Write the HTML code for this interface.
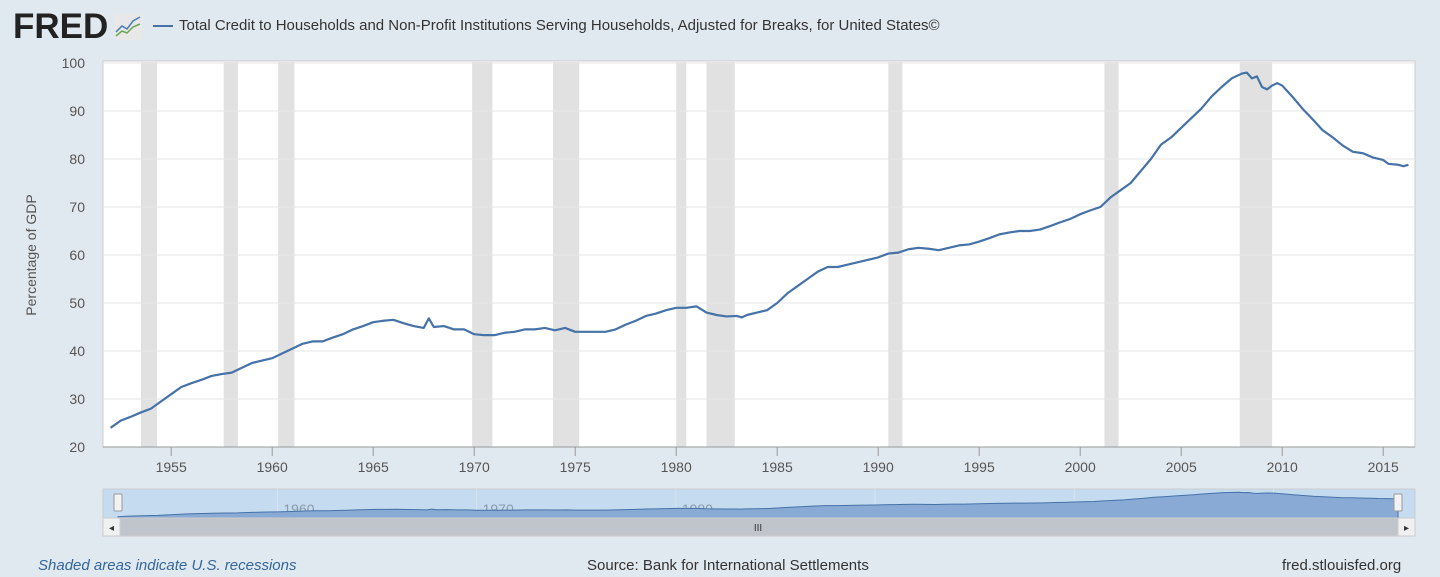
<!DOCTYPE html>
<html><head><meta charset="utf-8"><style>
body{margin:0;width:1440px;height:577px;background:#e1e9f0;font-family:"Liberation Sans",sans-serif;overflow:hidden;position:relative}
.t{position:absolute;white-space:nowrap}
</style></head><body>
<div class="t" style="left:13px;top:7px;font-size:35px;font-weight:bold;color:#222;letter-spacing:0px">FRED</div>
<svg class="t" style="left:114px;top:14px" width="28" height="26"><rect width="28" height="26" fill="#e8e8e8" rx="2"/><polyline points="2,18 8,12 13,15 19,7 26,3" fill="none" stroke="#4a7ab8" stroke-width="1.5"/><polyline points="2,22 8,17 13,19 19,13 26,10" fill="none" stroke="#6aa84f" stroke-width="1.5"/></svg>
<div class="t" style="left:153px;top:17px;font-size:15px;color:#333"><span style="display:inline-block;width:20px;height:2px;background:#4572a7;vertical-align:middle;margin-right:6px"></span>Total Credit to Households and Non-Profit Institutions Serving Households, Adjusted for Breaks, for United States©</div>
<svg id="c" width="1440" height="577" style="position:absolute;left:0;top:0"></svg>
<div class="t" style="left:38px;top:557px;font-size:15px;color:#336699;font-style:italic">Shaded areas indicate U.S. recessions</div>
<div class="t" style="left:587px;top:557px;font-size:15px;color:#333">Source: Bank for International Settlements</div>
<div class="t" style="left:1282px;top:557px;font-size:15px;color:#333">fred.stlouisfed.org</div>
<script>
const years=[1952,1952.5,1953,1953.5,1954,1954.5,1955,1955.5,1956,1956.5,1957,1957.5,1958,1958.5,1959,1959.5,1960,1960.5,1961,1961.5,1962,1962.5,1963,1963.5,1964,1964.5,1965,1965.5,1966,1966.5,1967,1967.5,1967.75,1968,1968.5,1969,1969.5,1970,1970.5,1971,1971.5,1972,1972.5,1973,1973.5,1974,1974.5,1975,1975.5,1976,1976.5,1977,1977.5,1978,1978.5,1979,1979.5,1980,1980.5,1981,1981.5,1982,1982.5,1983,1983.25,1983.5,1984,1984.5,1985,1985.5,1986,1986.5,1987,1987.5,1988,1988.5,1989,1989.5,1990,1990.5,1991,1991.5,1992,1992.5,1993,1993.5,1994,1994.5,1995,1995.5,1996,1996.5,1997,1997.5,1998,1998.5,1999,1999.5,2000,2000.5,2001,2001.5,2002,2002.5,2003,2003.5,2004,2004.5,2005,2005.5,2006,2006.5,2007,2007.5,2008,2008.25,2008.5,2008.75,2009,2009.25,2009.5,2009.75,2010,2010.5,2011,2011.5,2012,2012.5,2013,2013.5,2014,2014.5,2015,2015.25,2015.75,2016,2016.25];
const values=[24,25.5,26.3,27.2,28,29.5,31,32.5,33.3,34,34.8,35.2,35.5,36.5,37.5,38,38.5,39.5,40.5,41.5,42,42,42.8,43.5,44.5,45.2,46,46.3,46.5,45.8,45.2,44.8,46.8,45,45.2,44.5,44.5,43.5,43.3,43.3,43.8,44,44.5,44.5,44.8,44.3,44.8,44,44,44,44,44.5,45.5,46.3,47.3,47.8,48.5,49,49,49.3,48,47.5,47.2,47.3,47,47.5,48,48.5,50,52,53.5,55,56.5,57.5,57.5,58,58.5,59,59.5,60.3,60.5,61.2,61.5,61.3,61,61.5,62,62.2,62.8,63.5,64.3,64.7,65,65,65.3,66,66.8,67.5,68.5,69.3,70,72,73.5,75,77.5,80,83,84.5,86.5,88.5,90.5,93,95,96.8,97.8,98,96.8,97.2,95,94.5,95.3,95.8,95.3,93,90.5,88.3,86,84.5,82.8,81.5,81.2,80.3,79.8,79,78.8,78.5,78.8];
const recStart=[1953.5,1957.6,1960.3,1969.9,1973.9,1980.0,1981.5,1990.5,2001.2,2007.9];
const recEnd=[1954.3,1958.3,1961.1,1970.9,1975.2,1980.5,1982.9,1991.2,2001.9,2009.5];
const yTicks=[20,30,40,50,60,70,80,90,100];
const xTicks=[1955,1960,1965,1970,1975,1980,1985,1990,1995,2000,2005,2010,2015];
const navTicks=[1960,1970,1980,1990,2000,2010];
const svg=document.getElementById('c');const NS='http://www.w3.org/2000/svg';
function mk(t,a,p){const e=document.createElementNS(NS,t);for(const k in a)e.setAttribute(k,a[k]);(p||svg).appendChild(e);return e;}
const X=y=>110.6+(y-1952)*20.2, Y=v=>447-(v-20)*4.8;
const bg=mk('rect',{x:103,y:61,width:1312,height:386,fill:'#fff',stroke:'#ccc'});


recStart.forEach((s,i)=>{const r=mk('rect',{x:X(s),y:62,width:X(recEnd[i])-X(s),height:385,fill:'#e1e1e1'});

});
yTicks.forEach(v=>{const g=mk('line',{x1:103,x2:1415,y1:Y(v),y2:Y(v),stroke:'#e6e6e6'});


const t=mk('text',{x:85,y:Y(v)+5,'text-anchor':'end','font-size':14,fill:'#555'});t.textContent=v;

});
mk('line',{x1:103,x2:1415,y1:447,y2:447,stroke:'#999'});
xTicks.forEach(y=>{mk('line',{x1:X(y),x2:X(y),y1:447,y2:456,stroke:'#999'});
const t=mk('text',{x:X(y),y:472,'text-anchor':'middle','font-size':14,fill:'#555'});t.textContent=y;

});
const yt=mk('text',{x:36,y:255,'text-anchor':'middle','font-size':14,fill:'#555',transform:'rotate(-90 36 255)'});yt.textContent='Percentage of GDP';


const line=mk('polyline',{points:years.map((y,i)=>X(y)+','+Y(values[i])).join(' '),fill:'none',stroke:'#4572a7','stroke-width':2.2,'stroke-linejoin':'round'});


// navigator
const NX=y=>118+(y-1952)*(1398-118)/64.25, NY=v=>518-(v-20)*0.33;
const nb=mk('rect',{x:103,y:489,width:1312,height:29,fill:'#c5dbf0',stroke:'#ccc'});


navTicks.forEach(y=>{mk('line',{x1:NX(y),x2:NX(y),y1:489,y2:518,stroke:'#d8e4ef'});
const t=mk('text',{x:NX(y)+6,y:514,'text-anchor':'start','font-size':14,fill:'#8a9aaa'});t.textContent=y;

});
const na=mk('polygon',{points:'118,518 '+years.map((y,i)=>NX(y)+','+NY(values[i])).join(' ')+' 1398,518',fill:'#8aaad6',stroke:'#4572a7','stroke-width':1});


[118,1398].forEach(x=>{const h=mk('rect',{x:x-4,y:494,width:8,height:17,fill:'#f2f2f2',stroke:'#999',rx:1});

});
const sb=mk('rect',{x:103,y:518,width:1312,height:18,fill:'#c0c5cc',stroke:'#ccc'});


[[103,'◂'],[1398,'▸']].forEach(([x,c])=>{const b=mk('rect',{x:x,y:518,width:17,height:18,fill:'#f0f0f0',stroke:'#ccc'});


const t=mk('text',{x:x+8.5,y:531,'text-anchor':'middle','font-size':10,fill:'#333'});t.textContent=c;});
const g=mk('text',{x:758,y:531,'text-anchor':'middle','font-size':10,fill:'#333'});g.textContent='III';
</script>
</body></html>
